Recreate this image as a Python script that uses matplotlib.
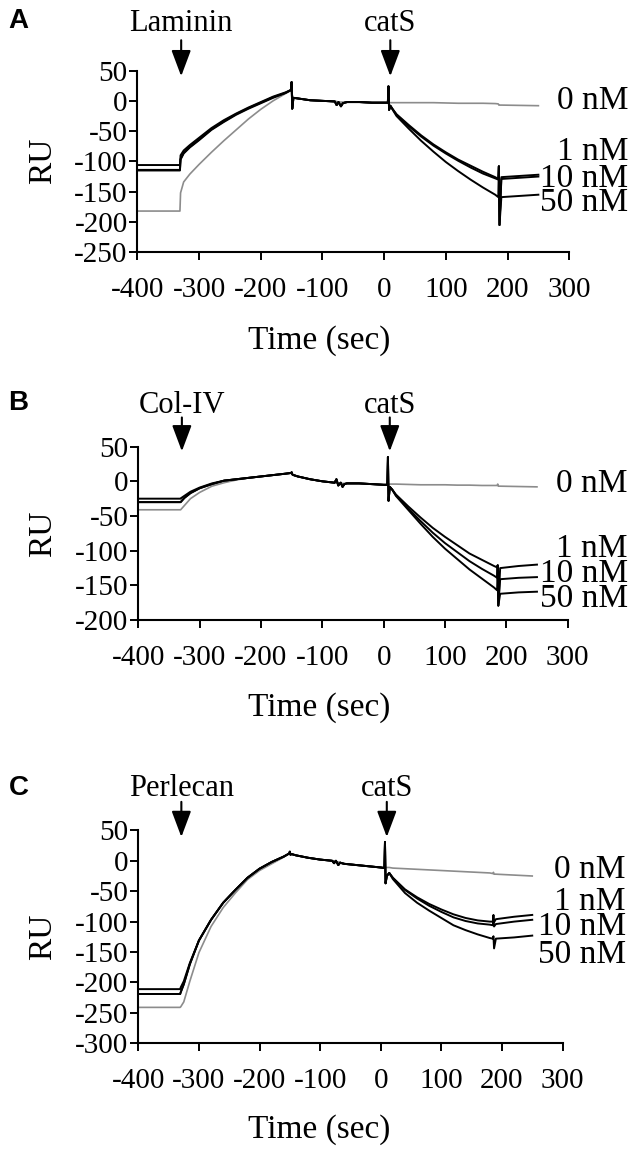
import matplotlib.pyplot as plt

plt.rcParams['font.family'] = 'Liberation Serif'
plt.rcParams['axes.unicode_minus'] = False

# time points (sec), shared by all three panels
t = [-400, -331, -330, -325, -315, -300, -280, -260, -240, -220, -200, -180, -160, -151,
     -150, -149, -147, -140, -120, -100, -80, -77, -74, -70, -67, -64, -60, -40, -20, 0,
     6, 7, 8, 10, 14, 20, 40, 60, 80, 100, 120, 140, 160, 180, 185, 186, 187, 190, 220, 250]

# A - Laminin (RU)
a0 = [-182, -182, -152, -134, -121, -105, -85, -66, -48, -30, -14, 0, 12, 17,
      17, 10, 5, 4, 1, 0, -1, -1, -2, -2, -2, -2, -2, -2, -3, -3,
      -3, -3, -3, -3, -3, -3, -3, -3, -3, -3.5, -4, -4, -4, -4.5, -5, -7, -7, -7, -7.5, -8]
a1 = [-106, -106, -90, -82, -73, -61, -45, -32, -21, -11, -2, 7, 14, 18,
      31, -13, 5, 4, 1, 0, -1, -7, -2, -9, -4, -3, -2, -2, -3, -3,
      -3, 24, -15, -8, -14, -22, -40, -57, -72, -85, -97, -107, -117, -126, -129, -108, -205, -126, -124, -122]
a10 = [-114, -114, -96, -86, -76, -64, -47, -34, -22, -12, -3, 6, 13, 18,
       31, -13, 5, 4, 1, 0, -1, -7, -2, -9, -4, -3, -2, -2, -3, -3,
       -3, 24, -15, -8, -14, -23, -42, -59, -74, -87, -99, -110, -120, -128, -130, -108, -205, -129, -127, -125]
a50 = [-115, -115, -97, -87, -77, -65, -48, -35, -23, -13, -4, 5, 13, 18,
       31, -13, 5, 4, 1, 0, -1, -7, -2, -9, -4, -3, -2, -2, -3, -3,
       -3, 24, -15, -8, -15, -25, -46, -66, -84, -101, -116, -130, -143, -155, -159, -108, -205, -159, -157, -155]

# B - Col-IV (RU)
b0 = [-41, -41, -40, -35, -25, -16, -7, -2, 2, 5, 7, 9, 11, 12,
      12, 10, 9, 7, 3, 0, -2, -2, -3, -3, -3, -3, -3, -3, -4, -5,
      -5, -5, -5, -4, -4, -4, -4.5, -5, -5, -5, -5.5, -5.5, -6, -6, -6, -4, -7, -7, -7.5, -8]
b1 = [-25, -25, -24, -21, -15, -9, -3, 1, 3, 5, 7, 9, 11, 12,
      13, 10, 9, 7, 3, 0, -2, 3, -6, -2, -8, -4, -3, -3, -4, -5,
      -5, 35, -28, -8, -12, -19, -36, -52, -67, -80, -92, -104, -113, -122, -124, -121, -179, -125, -122, -120]
b10 = [-30, -30, -29, -24, -17, -10, -4, 1, 3, 5, 7, 9, 11, 12,
       13, 10, 9, 7, 3, 0, -2, 3, -6, -2, -8, -4, -3, -3, -4, -5,
       -5, 35, -28, -8, -12, -20, -39, -57, -74, -89, -102, -115, -126, -136, -139, -121, -179, -141, -139, -138]
b50 = [-30, -30, -29, -24, -17, -10, -4, 1, 3, 5, 7, 9, 11, 12,
       13, 10, 9, 7, 3, 0, -2, 3, -6, -2, -8, -4, -3, -3, -4, -5,
       -5, 35, -28, -8, -12, -21, -41, -61, -80, -97, -112, -127, -140, -153, -157, -121, -179, -162, -160, -159]

# C - Perlecan (RU)
c0 = [-241, -241, -240, -232, -198, -151, -108, -77, -53, -31, -16, -5, 6, 12,
      13, 12, 11, 9, 5, 2, 0, 0, -1, -2, -3, -4, -5, -7, -9, -11,
      -11, -11, -11, -11, -11, -12, -13, -14, -15, -16, -17, -18, -19, -20, -21, -19, -22, -22, -23.5, -25]
c1 = [-211, -211, -208, -198, -168, -131, -97, -69, -48, -28, -13, -2, 7, 12,
      15, 10, 11, 9, 5, 2, 0, -4, 0, -7, -3, -4, -5, -7, -9, -11,
      -12, 31, -37, -25, -20, -28, -47, -60, -71, -80, -88, -94, -98, -100, -100, -89, -101, -96, -92, -89]
c10 = [-219, -219, -216, -203, -170, -131, -97, -69, -48, -28, -13, -2, 7, 12,
       15, 10, 11, 9, 5, 2, 0, -4, 0, -7, -3, -4, -5, -7, -9, -11,
       -12, 31, -37, -25, -20, -28, -48, -62, -74, -84, -93, -99, -103, -105, -106, -100, -108, -104, -100, -97]
c50 = [-219, -219, -216, -203, -170, -131, -97, -69, -48, -28, -13, -2, 7, 12,
       15, 10, 11, 9, 5, 2, 0, -4, 0, -7, -3, -4, -5, -7, -9, -11,
       -12, 31, -37, -25, -20, -30, -53, -69, -82, -94, -106, -114, -121, -127, -128, -124, -144, -128, -126, -123]

conc_labels = ['0 nM', '1 nM', '10 nM', '50 nM']
ligands = ['Laminin', 'Col-IV', 'Perlecan']
letters = ['A', 'B', 'C']
ylims = [(-250, 50), (-200, 50), (-300, 50)]
label_y = [[0, -84, -128, -169], [-3, -97, -133, -169], [-15, -67, -108, -155]]

series = [[a0, a1, a10, a50], [b0, b1, b10, b50], [c0, c1, c10, c50]]

rects = [[0.216, 0.782, 0.679, 0.157],
         [0.2175, 0.464, 0.675, 0.150],
         [0.2175, 0.0983, 0.667, 0.184]]
# arrow tip / tail / text heights in axes fraction
arrow_y = [(0.969, 1.167, 1.26), (0.973, 1.168, 1.236), (0.969, 1.134, 1.197)]
label_xfrac = [1.137, 1.140, 1.149]
letter_y = [0.982, 0.652, 0.319]
ru_y = [0.861, 0.539, 0.19]
time_y = [0.706, 0.388, 0.0233]

fig = plt.figure(figsize=(6.36, 11.57), dpi=100)

for i in range(3):
    ax = fig.add_axes(rects[i])
    s = series[i]
    ax.plot(t, s[0], color='#8c8c8c', lw=1.2, zorder=2)
    for k in [1, 2, 3]:
        ax.plot(t, s[k], color='black', lw=1.4, zorder=3)

    ax.set_xlim(-400, 300)
    ax.set_ylim(ylims[i])
    ax.set_xticks(range(-400, 301, 100))
    ax.set_yticks(range(ylims[i][0], 51, 50))
    for side in ['top', 'right']:
        ax.spines[side].set_visible(False)
    for side in ['left', 'bottom']:
        ax.spines[side].set_linewidth(1.5)
    ax.tick_params(axis='x', direction='out', length=6, width=1.4, labelsize=21, pad=12)
    ax.tick_params(axis='y', direction='out', length=6, width=1.4, labelsize=21, pad=1)

    # concentration labels
    for k in range(4):
        ax.annotate(conc_labels[k], xy=(label_xfrac[i], label_y[i][k]),
                    xycoords=('axes fraction', 'data'), ha='right', va='center',
                    fontsize=24, annotation_clip=False)

    # injection arrows
    tip, tail, ty = arrow_y[i]
    for tx, txt in [(-329, ligands[i]), (10, 'catS')]:
        ax.annotate('', xy=(tx, tip), xytext=(tx, tail),
                    xycoords=('data', 'axes fraction'), textcoords=('data', 'axes fraction'),
                    arrowprops=dict(arrowstyle='-|>,head_length=1.6,head_width=0.6',
                                    mutation_scale=10, color='black', lw=1.5,
                                    shrinkA=0, shrinkB=0),
                    annotation_clip=False)
        ax.annotate(txt, xy=(tx, ty), xycoords=('data', 'axes fraction'),
                    ha='center', va='center', fontsize=22, annotation_clip=False)

    fig.text(0.068, ru_y[i], 'RU', rotation=90, ha='center', va='center', fontsize=24)
    fig.text(0.502, time_y[i], 'Time (sec)', ha='center', va='center', fontsize=24)
    fig.text(0.029, letter_y[i], letters[i], ha='center', va='center', fontsize=20,
             fontweight='bold', family='Liberation Sans')

fig.savefig('out.png', dpi=100)
